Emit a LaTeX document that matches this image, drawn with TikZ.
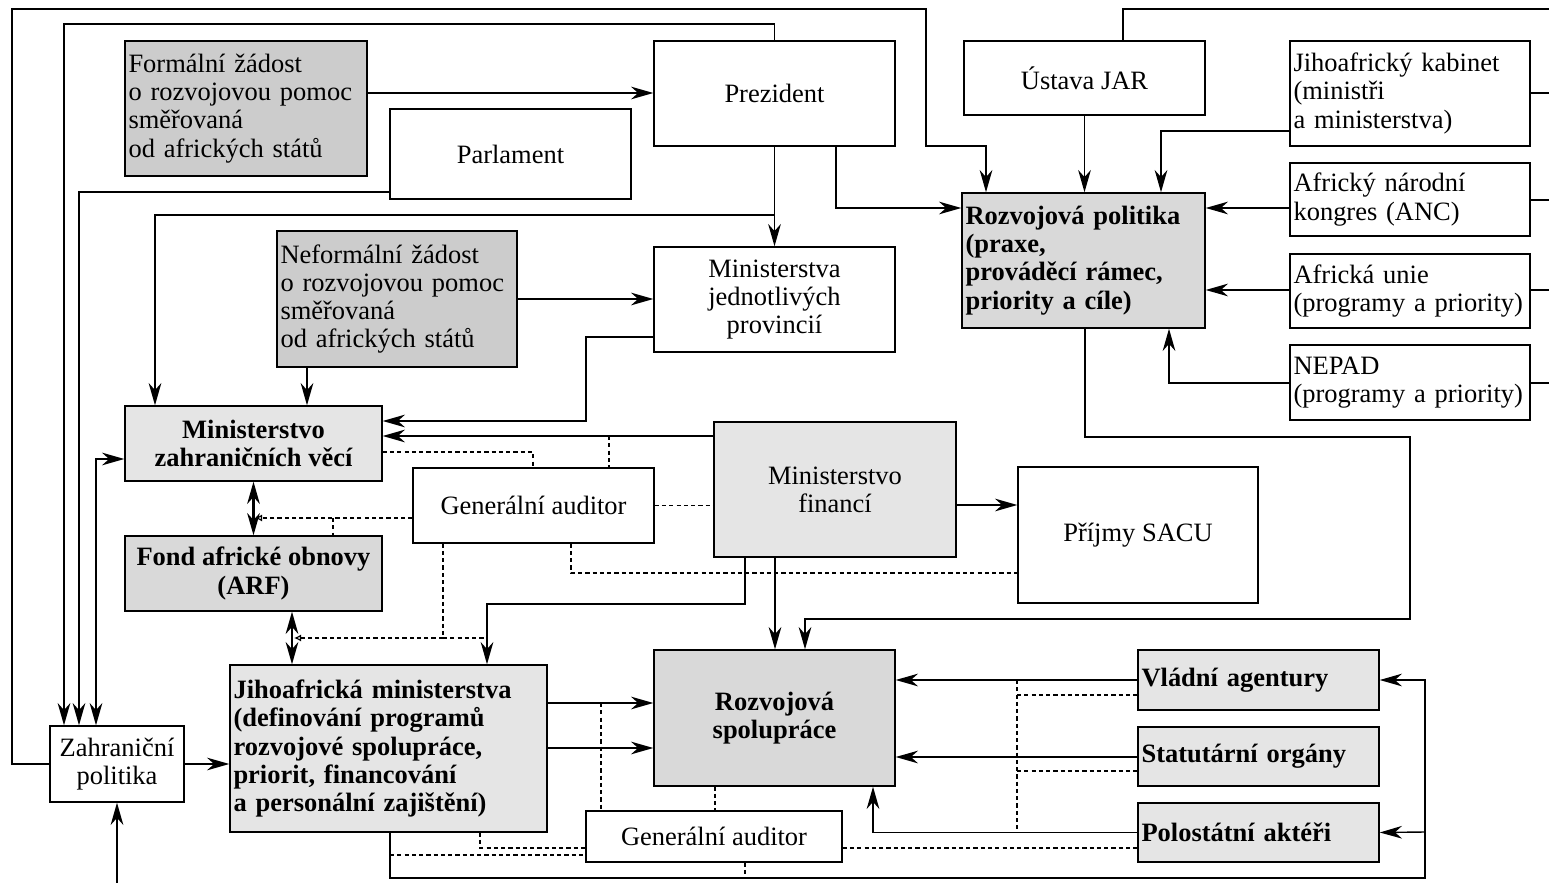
\documentclass[tikz,border=0pt]{standalone}
\usepackage{fontspec}
\setmainfont{Liberation Serif}
\usetikzlibrary{arrows.meta}
\definecolor{darkfill}{gray}{0.80}
\definecolor{midfill}{gray}{0.85}
\definecolor{lightfill}{gray}{0.90}
\tikzset{
  box/.style={draw, line width=0.6pt, inner sep=1.5pt, font=\fontsize{11.3}{12}\selectfont},
  bold/.style={font=\fontsize{11.3}{12}\selectfont\bfseries},
  cbox/.style 2 args={box, align=center, minimum width=#1*0.015cm, minimum height=#2*0.015cm},
  lbox/.style 2 args={box, align=left, text width=#1*0.015cm-3pt, minimum height=#2*0.015cm},
  tip/.style={Stealth[length=9.5pt,width=5.4pt,inset=3pt]},
  arr/.style={-{Stealth[length=9.5pt,width=5.4pt,inset=3pt]}, line width=0.6pt},
  dbl/.style={{Stealth[length=9.5pt,width=5.4pt,inset=3pt]}-{Stealth[length=9.5pt,width=5.4pt,inset=3pt]}, line width=1pt},
  dsh/.style={dash pattern=on 1.8pt off 1.3pt, line width=0.5pt},
  opentip/.style={dsh, -{Latex[open,length=3pt,width=3pt]}},
}
\begin{document}
\begin{tikzpicture}[x=0.015cm, y=-0.015cm]
  \useasboundingbox (0,0) rectangle (1549,883);
  % boxes
  \node[lbox={242}{135}, fill=darkfill] (formal) at (246,108.5)
    {Formální žádost\\o rozvojovou pomoc\\směřovaná\\od afrických států};
  \node[cbox={241}{90}] (parl) at (510.5,154) {Parlament};
  \node[cbox={241}{105}] (prez) at (774.5,93.5) {Prezident};
  \node[cbox={241}{74}] (ustava) at (1084.5,78) {Ústava JAR};
  \node[lbox={240}{105}] (kabinet) at (1410,93.5)
    {Jihoafrický kabinet\\(ministři\\a ministerstva)};
  \node[lbox={240}{73}] (anc) at (1410,199.5) {Africký národní\\kongres (ANC)};
  \node[lbox={240}{74}] (au) at (1410,291) {Africká unie\\(programy a priority)};
  \node[lbox={240}{75}] (nepad) at (1410,382.5) {NEPAD\\(programy a priority)};
  \node[lbox={243}{135}, fill=midfill, bold] (rp) at (1083.5,260.5)
    {Rozvojová politika\\(praxe,\\prováděcí rámec,\\priority a cíle)};
  \node[lbox={240}{136}, fill=darkfill] (neformal) at (397,299)
    {Neformální žádost\\o rozvojovou pomoc\\směřovaná\\od afrických států};
  \node[cbox={241}{105}] (mjp) at (774.5,299.5) {Ministerstva\\jednotlivých\\provincií};
  \node[cbox={257}{75}, fill=lightfill, bold] (mzv) at (253.5,443.5)
    {Ministerstvo\\zahraničních věcí};
  \node[cbox={241}{75}] (ga1) at (533.5,505.5) {Generální auditor};
  \node[cbox={242}{135}, fill=lightfill] (mf) at (835,489.5) {Ministerstvo\\financí};
  \node[cbox={240}{136}] (sacu) at (1138,535) {Příjmy SACU};
  \node[cbox={257}{75}, fill=midfill, bold] (fond) at (253.5,573.5)
    {Fond africké obnovy\\(ARF)};
  \node[lbox={317}{167}, fill=lightfill, bold] (jm) at (388.5,748.5)
    {Jihoafrická ministerstva\\(definování programů\\rozvojové spolupráce,\\priorit, financování\\a personální zajištění)};
  \node[cbox={241}{136}, fill=midfill, bold] (rs) at (774.5,718)
    {Rozvojová\\spolupráce};
  \node[cbox={256}{51}] (ga2) at (714,836.5) {Generální auditor};
  \node[cbox={134}{76}] (zp) at (117,764) {Zahraniční\\politika};
  \node[lbox={241}{60}, fill=lightfill, bold] (vlad) at (1258.5,680)
    {Vládní agentury};
  \node[lbox={241}{59}, fill=lightfill, bold] (stat) at (1258.5,756.5)
    {Statutární orgány};
  \node[lbox={241}{59}, fill=lightfill, bold] (polo) at (1258.5,832.5)
    {Polostátní aktéři};
  \coordinate (edge) at (1549,0);
  \coordinate (foot) at (117,883);

  % solid connectors
  \draw[arr] (formal.east |- 0,93) -- (prez.west |- 0,93);
  \draw[arr] (zp.west) -- (12,764) -- (12,9) -- (926,9) -- (926,146) -| (rp.north -| 986,0);
  \draw[arr] (prez.north) |- (64,24) -- (zp.north -| 64,0);
  \draw[arr] (parl.west |- 0,192) -| (zp.north -| 79,0);
  \draw[arr] (prez.south) -- (mjp.north);
  \draw[arr] (prez.south |- 0,215) -| (mzv.north -| 155,0);
  \draw[arr] (prez.south -| 836,0) |- (rp.west |- 0,208);
  \draw[arr] (ustava.south) -- (ustava.south |- rp.north);
  \draw[arr] (kabinet.west |- 0,131) -| (rp.north -| 1161,0);
  \draw[arr] (anc.west |- 0,208) -- (rp.east |- 0,208);
  \draw[arr] (au.west |- 0,290) -- (rp.east |- 0,290);
  \draw[arr] (nepad.west |- 0,383) -| (rp.south -| 1169,0);
  \draw[line width=0.6pt] (kabinet.east |- 0,93) -- (edge |- 0,93);
  \draw[line width=0.6pt] (anc.east |- 0,200) -- (edge |- 0,200);
  \draw[line width=0.6pt] (au.east |- 0,290) -- (edge |- 0,290);
  \draw[line width=0.6pt] (nepad.east |- 0,383) -- (edge |- 0,383);
  \draw[line width=0.6pt] (ustava.north -| 1123,0) |- (edge |- 0,9);
  \draw[arr] (neformal.south -| 307,0) -- (mzv.north -| 307,0);
  \draw[arr] (neformal.east |- 0,299) -- (mjp.west |- 0,299);
  \draw[arr] (mjp.west |- 0,337) -| (586,421) -- (mzv.east |- 0,421);
  \draw[arr] (mf.west |- 0,436) -- (mzv.east |- 0,436);
  \draw[dbl, line width=0.6pt] (mzv.west |- 0,459) -| (zp.north -| 96,0);
  \draw[dbl] (mzv.south) -- (fond.north);
  \draw[dbl] (fond.south -| 292,0) -- (jm.north -| 292,0);
  \draw[arr] (mf.east |- 0,505) -- (sacu.west |- 0,505);
  \draw[arr] (mf.south -| 745,0) |- (487,604) -- (jm.north -| 487,0);
  \draw[arr] (mf.south -| 775,0) -- (rs.north -| 775,0);
  \draw[arr] (rp.south -| 1085,0) |- (1410,437) |- (805,619) -- (rs.north -| 805,0);
  \draw[arr] (zp.east) -- (jm.west |- zp.east);
  \draw[arr] (foot) -- (zp.south);
  \draw[arr] (jm.east |- 0,703) -- (rs.west |- 0,703);
  \draw[arr] (jm.east |- 0,748) -- (rs.west |- 0,748);
  \draw[arr] (jm.south -| 390,0) |- (1425,878) |- (vlad.east);
  \draw[arr] (1425,832) -- (polo.east);
  \draw[arr] (vlad.west) -- (rs.east |- vlad.west);
  \draw[arr] (stat.west |- 0,757) -- (rs.east |- 0,757);
  \draw[arr] (polo.west) -| (rs.south -| 873,0);

  % dashed connectors
  \draw[dsh] (mzv.east |- 0,452) -| (ga1.north -| 533,0);
  \draw[dsh] (609,436) -- (ga1.north -| 609,0);
  \draw[opentip] (ga1.west |- 0,518) -- (255,518);
  \draw[dsh] (333,518) -- (fond.north -| 333,0);
  \draw[dsh] (ga1.east) -- (mf.west |- ga1.east);
  \draw[dsh] (ga1.south -| 571,0) |- (sacu.west |- 0,573);
  \draw[opentip] (ga1.south -| 443,0) |- (294,638);
  \draw[dsh] (443,638) -- (487,638);
  \draw[dsh] (601,703) -- (ga2.north -| 601,0);
  \draw[dsh] (rs.south -| 715,0) -- (ga2.north -| 715,0);
  \draw[dsh] (390,855) -- (ga2.west |- 0,855);
  \draw[dsh] (jm.south -| 480,0) |- (ga2.west |- 0,848);
  \draw[dsh] (ga2.east |- 0,848) -- (polo.west |- 0,848);
  \draw[dsh] (ga2.south -| 745,0) -- (745,878);
  \draw[dsh] (1017,680) -- (1017,832);
  \draw[dsh] (1017,695) -- (vlad.west |- 0,695);
  \draw[dsh] (1017,771) -- (stat.west |- 0,771);
\end{tikzpicture}
\end{document}
